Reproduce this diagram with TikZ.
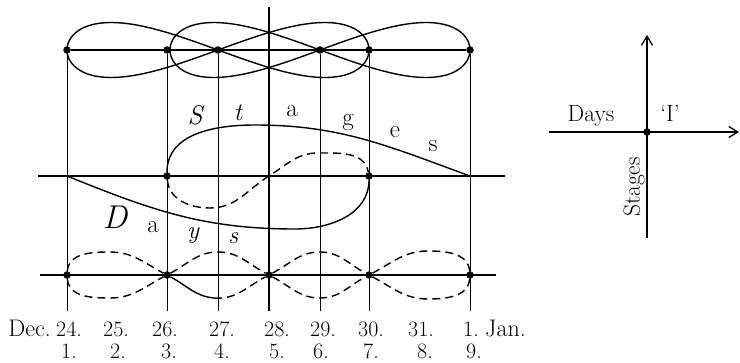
\documentclass[tikz,border=0pt]{standalone}
\usetikzlibrary{positioning,arrows.meta}
\tikzset{
	dot/.style={circle,fill,inner sep=0pt,minimum size=7.5pt},
	loopline/.style={line width=1.4pt},
	dashline/.style={line width=1.4pt,dash pattern=on 8pt off 5pt},
	colline/.style={line width=0.7pt},
	mainline/.style={line width=1.3pt},
	lbl/.style={font=\fontsize{23.5}{28}\selectfont},
	datelbl/.style={font=\fontsize{22}{26}\selectfont,inner sep=0pt,anchor=base},
	monthlbl/.style={font=\fontsize{24}{28}\selectfont,inner sep=0pt},
	letter/.style={font=\fontsize{25}{30}\selectfont},
	slanted/.style={font=\fontsize{25}{30}\selectfont\itshape},
}
\begin{document}
\begin{tikzpicture}[x=1pt,y=1pt,>={Straight Barb[length=9pt,width=11pt]}]
	\useasboundingbox (0,0) rectangle (740,362);
	% Define the coordinates
	\node[dot] (t24) at (67,312) {};
	\node[dot] (t26) at (167,312) {};
	\node[dot] (t27) at (218,312) {};
	\coordinate (t28) at (269,355);
	\node[dot] (t29) at (320,312) {};
	\node[dot] (t30) at (369,312) {};
	\node[dot] (t1) at (470,312) {};
	\coordinate (ml) at (38,186);
	\coordinate (mr) at (505,186);
	\coordinate (m24) at (67,186);
	\node[dot] (m26) at (167,186) {};
	\coordinate (m28) at (269,186);
	\node[dot] (m30) at (369,186) {};
	\coordinate (m1) at (470,186);
	\coordinate (bl) at (40,87);
	\coordinate (br) at (496,87);
	\node[dot] (b24) at (67,87) {};
	\node[dot] (b26) at (167,87) {};
	\node[dot] (b28) at (269,87) {};
	\node[dot] (b30) at (369,87) {};
	\node[dot] (b1) at (470,87) {};
	\coordinate (s27) at (214,64);
	\coordinate (f24) at (67,51);
	\coordinate (f26) at (167,51);
	\coordinate (f27) at (218,51);
	\coordinate (f28) at (269,51);
	\coordinate (f29) at (320,51);
	\coordinate (f30) at (369,51);
	\coordinate (f1) at (470,51);
	% Draw the day lines
	\draw[colline] (t24) -- (f24);
	\draw[colline] (t26) -- (f26);
	\draw[colline] (t27) -- (f27);
	\draw[line width=1.5pt] (t28) -- (f28);
	\draw[colline] (t29) -- (f29);
	\draw[colline] (t30) -- (f30);
	\draw[colline] (t1) -- (f1);
	\draw[mainline] (t24) -- (t1);
	\draw[mainline] (ml) -- (mr);
	\draw[mainline] (bl) -- (br);
	% Plot the loops
	\draw[loopline,domain=0:360,samples=150] plot ({218+151*cos(\x)},{312+55*sin(\x)*cos(\x)});
	\draw[loopline,domain=0:360,samples=150] plot ({320+150*cos(\x)},{312+55*sin(\x)*cos(\x)});
	% Days and Stages
	\draw[loopline] (m24) to[out=-22,in=180] (295,133) to[out=0,in=-90] (m30);
	\draw[loopline] (m26) to[out=90,in=180] (255,237) to[out=0,in=160] (m1);
	\draw[dashline] (m26) to[out=-85,in=180] (210,154) to[out=0,in=-148] (m28)
		to[out=32,in=180] (318,209) to[out=0,in=100] (m30);
	% Lower chain
	\draw[dashline] (b24) to[out=85,in=180] (110,110) to[out=0,in=152] (b26);
	\draw[loopline] (b26) to[out=-28,in=175] (s27);
	\draw[dashline] (s27) to[out=-5,in=-152] (b28) to[out=28,in=180] (320,110)
		to[out=0,in=152] (b30) to[out=-28,in=180] (428,63) to[out=0,in=-95] (b1);
	\draw[dashline] (b24) to[out=-85,in=180] (110,64) to[out=0,in=-152] (b26)
		to[out=28,in=180] (218,110) to[out=0,in=152] (b28) to[out=-28,in=180] (320,64)
		to[out=0,in=-152] (b30) to[out=28,in=180] (428,111) to[out=0,in=95] (b1);
	% Add labels
	\node[font=\fontsize{27}{32}\selectfont\itshape] (lS) at (195,247) {S};
	\node[slanted] (lt) at (238,249) {t};
	\node[letter] (la1) at (292,251) {a};
	\node[letter] (lg) at (348,240) {g};
	\node[letter] (le) at (395,230) {e};
	\node[letter] (ls1) at (433,216) {s};
	\node[font=\fontsize{33}{38}\selectfont\itshape] (lD) at (115,145) {D};
	\node[letter] (la2) at (153,135) {a};
	\node[slanted] (ly) at (193,126) {y};
	\node[slanted] (ls2) at (233,124) {s};
	% Dates
	\node[datelbl] (d24) at (69,26) {24.};
	\node[datelbl] (d25) at (116,26) {25.};
	\node[datelbl] (d26) at (165,26) {26.};
	\node[datelbl] (d27) at (222,26) {27.};
	\node[datelbl] (d28) at (277,26) {28.};
	\node[datelbl] (d29) at (323,26) {29.};
	\node[datelbl] (d30) at (371,26) {30.};
	\node[datelbl] (d31) at (421,26) {31.};
	\node[datelbl] (dj1) at (471,26) {1.};
	\node[monthlbl,base left=5pt of d24] (dec) {Dec.};
	\node[monthlbl,base right=6pt of dj1] (jan) {Jan.};
	\node[datelbl] (n1) at (69,3) {1.};
	\node[datelbl] (n2) at (118,3) {2.};
	\node[datelbl] (n3) at (169,3) {3.};
	\node[datelbl] (n4) at (222,3) {4.};
	\node[datelbl] (n5) at (277,3) {5.};
	\node[datelbl] (n6) at (321,3) {6.};
	\node[datelbl] (n7) at (371,3) {7.};
	\node[datelbl] (n8) at (425,3) {8.};
	\node[datelbl] (n9) at (474,3) {9.};
	% Draw the axes
	\node[dot] (o) at (647,230) {};
	\coordinate (xl) at (549,230);
	\coordinate (xr) at (739,230);
	\coordinate (yb) at (647,124);
	\coordinate (yt) at (647,327);
	\draw[mainline,->] (xl) -- (xr);
	\draw[mainline,->] (yb) -- (yt);
	\node[lbl,anchor=base] (days) at (591,240) {Days};
	\node[lbl,anchor=base] (ti) at (670,240) {`I'};
	\node[lbl,rotate=90] (stages) at (634,175) {Stages};
\end{tikzpicture}
\end{document}
